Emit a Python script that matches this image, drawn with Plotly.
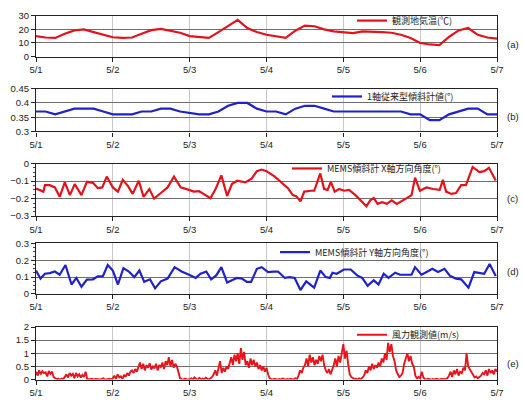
import plotly.graph_objects as go

# ---------------- data ----------------
DATE_LABELS = ["5/1", "5/2", "5/3", "5/4", "5/5", "5/6", "5/7"]
DAY_HOURS = [0, 24, 48, 72, 96, 120, 144]

# (a) air temperature, every 3 hours from 5/1 00:00 to 5/7 00:00
TEMP_HOURS = list(range(0, 145, 3))
TEMP = [15.1, 14.0, 13.7, 16.8, 19.2, 20.0, 18.0, 16.0,
        14.2, 13.7, 14.0, 16.8, 19.4, 20.4, 19.2, 17.5,
        15.0, 14.2, 13.7, 18.0, 22.8, 27.0, 21.0, 18.0,
        16.0, 14.9, 13.7, 19.0, 22.8, 22.3, 20.0, 18.5,
        18.0, 17.3, 18.5, 18.5, 18.0, 17.5, 16.0, 13.7,
        10.0, 8.9, 8.4, 14.4, 19.2, 21.0, 16.0, 14.0,
        13.2]

# (b) conventional 1-axis inclinometer (deg), every 3 hours
TILT_HOURS = list(range(0, 145, 3))
TILT = [0.37, 0.37, 0.36, 0.37, 0.38, 0.38, 0.38, 0.37,
        0.36, 0.36, 0.36, 0.37, 0.37, 0.38, 0.38, 0.37,
        0.365, 0.36, 0.36, 0.37, 0.39, 0.40, 0.40, 0.38,
        0.37, 0.37, 0.36, 0.38, 0.39, 0.39, 0.38, 0.37,
        0.37, 0.37, 0.37, 0.37, 0.37, 0.37, 0.37, 0.36,
        0.36, 0.34, 0.34, 0.36, 0.37, 0.38, 0.38, 0.36,
        0.36]

# (c) MEMS inclinometer X-axis angle (deg)
MEMSX_HOURS = [0, 2.3, 2.8, 4.3, 5.9, 7.4, 9.0, 10.6, 12.1, 14.2, 15.9, 17.8, 19.3, 20.7, 22.1,
               24.0, 25.6, 27.1, 28.7, 30.2, 32.1, 33.6, 35.4, 36.9, 39.0, 41.1, 43.1, 45.2,
               47.8, 49.3, 50.9, 52.4, 54.5, 56.1, 57.9, 59.7, 61.2, 62.8, 65.4, 67.4, 69.0,
               70.5, 72.0, 74.6, 76.6, 78.7, 80.2, 81.3, 82.6, 83.8, 85.9, 86.9, 88.8, 90.0,
               91.1, 92.1, 93.3, 94.7, 96.2, 97.8, 99.8, 101.4, 103.2, 104.4, 105.5, 106.7,
               108.1, 109.6, 111.1, 112.7, 114.2, 115.8, 117.3, 118.4, 119.9, 122.0, 124.0,
               126.1, 127.1, 128.1, 129.7, 131.2, 132.8, 134.3, 136.4, 138.5, 140.0, 141.5,
               143.6]
MEMSX = [-0.142, -0.160, -0.123, -0.123, -0.136, -0.190, -0.107, -0.180, -0.117, -0.180,
         -0.104, -0.110, -0.140, -0.136, -0.074, -0.136, -0.160, -0.093, -0.127, -0.173,
         -0.098, -0.190, -0.145, -0.200, -0.168, -0.136, -0.074, -0.136, -0.150, -0.160,
         -0.157, -0.173, -0.197, -0.145, -0.067, -0.185, -0.117, -0.098, -0.107, -0.085,
         -0.043, -0.034, -0.043, -0.074, -0.104, -0.140, -0.180, -0.186, -0.216, -0.160,
         -0.155, -0.155, -0.056, -0.145, -0.150, -0.104, -0.160, -0.145, -0.155, -0.150,
         -0.180, -0.210, -0.244, -0.210, -0.197, -0.230, -0.220, -0.230, -0.210, -0.230,
         -0.216, -0.197, -0.180, -0.080, -0.155, -0.136, -0.145, -0.150, -0.093, -0.160,
         -0.173, -0.168, -0.123, -0.123, -0.019, -0.049, -0.043, -0.024, -0.096]

# (d) MEMS inclinometer Y-axis angle (deg)
MEMSY_HOURS = [0, 1.4, 2.8, 4.3, 5.9, 7.4, 9.2, 11.1, 12.6, 14.2, 15.9, 17.8, 19.3, 20.9, 22.4,
               24.0, 25.6, 27.3, 29.0, 30.7, 32.3, 33.8, 35.6, 37.2, 39.0, 41.1, 43.3, 45.5,
               47.8, 49.9, 51.4, 53.2, 54.7, 56.3, 57.9, 59.7, 61.2, 62.8, 64.3, 65.9, 67.2,
               69.0, 70.5, 72.5, 74.1, 75.6, 77.7, 79.2, 80.8, 82.6, 84.4, 86.9, 88.8, 90.5,
               91.8, 92.6, 93.9, 96.2, 98.3, 100.3, 101.9, 103.6, 105.5, 107.0, 108.6, 110.1,
               112.2, 113.7, 115.8, 117.3, 118.4, 120.4, 122.0, 123.8, 125.6, 127.6, 129.4,
               131.2, 132.8, 135.1, 136.9, 138.9, 140.0, 141.7, 143.6]
MEMSY = [0.139, 0.091, 0.120, 0.124, 0.133, 0.114, 0.172, 0.056, 0.095, 0.043, 0.085, 0.087,
         0.104, 0.106, 0.172, 0.139, 0.056, 0.153, 0.133, 0.100, 0.139, 0.072, 0.087, 0.033,
         0.075, 0.091, 0.159, 0.133, 0.114, 0.095, 0.120, 0.133, 0.087, 0.110, 0.159, 0.068,
         0.081, 0.095, 0.091, 0.072, 0.072, 0.149, 0.159, 0.130, 0.133, 0.133, 0.095, 0.100,
         0.095, 0.023, 0.075, 0.037, 0.139, 0.100, 0.095, 0.126, 0.120, 0.145, 0.145, 0.110,
         0.095, 0.048, 0.081, 0.056, 0.120, 0.095, 0.126, 0.114, 0.114, 0.114, 0.159, 0.114,
         0.130, 0.149, 0.130, 0.149, 0.106, 0.091, 0.087, 0.037, 0.130, 0.124, 0.120, 0.178,
         0.106]

# (e) wind speed (m/s), every 30 minutes
WIND_HOURS = [i * 0.5 for i in range(289)]
WIND = [
    # 5/1
    0.30, 0.15, 0.35, 0.20, 0.32, 0.25, 0.28, 0.12, 0.33, 0.22, 0.30, 0.10,
    0.05, 0.02, 0.03, 0.00, 0.04, 0.02,
    0.10, 0.20, 0.08, 0.25, 0.15, 0.22, 0.05, 0.25, 0.12, 0.20, 0.08, 0.18, 0.10, 0.30,
    0.02, 0.00, 0.01, 0.03, 0.00, 0.02, 0.00, 0.01, 0.00, 0.02, 0.05, 0.00, 0.01, 0.00, 0.03, 0.00,
    # 5/2
    0.05, 0.15, 0.02, 0.20, 0.08, 0.12, 0.03, 0.18, 0.10, 0.25, 0.15, 0.30,
    0.35, 0.25, 0.40, 0.30,
    0.45, 0.65, 0.40, 0.60, 0.35, 0.55, 0.45, 0.62, 0.38, 0.50, 0.42, 0.60, 0.35,
    0.55, 0.48, 0.65, 0.40, 0.70, 0.55, 0.85, 0.50, 0.75, 0.45, 0.60, 0.50,
    0.30, 0.05, 0.02, 0.00, 0.03, 0.01, 0.00,
    # 5/3
    0.02, 0.05, 0.00, 0.08, 0.03, 0.00, 0.06, 0.02, 0.04, 0.00, 0.07, 0.02, 0.00, 0.05, 0.10,
    0.20, 0.35, 0.15, 0.40, 0.70, 0.25, 0.45, 0.30, 0.50, 0.40,
    0.60, 0.85, 0.55, 0.95, 0.70, 1.00, 0.60, 1.20, 0.75, 1.05, 0.55,
    0.70, 0.45, 0.80, 0.55, 0.75, 0.50, 0.65,
    0.40, 0.55, 0.35, 0.50, 0.30,
    # 5/4
    0.45, 0.20,
    0.05, 0.02, 0.00, 0.03, 0.01, 0.00, 0.02, 0.00, 0.04, 0.01, 0.00, 0.02, 0.00, 0.03, 0.01,
    0.00, 0.05, 0.02,
    0.15, 0.35, 0.25, 0.45,
    0.55, 0.80, 0.50, 0.95, 0.65, 0.85, 0.55, 0.75, 0.60, 0.90, 0.70, 0.95, 0.55,
    0.35, 0.25, 0.40, 0.20, 0.35,
    0.55, 0.80, 0.50, 0.90, 0.65, 1.00,
    # 5/5
    1.35, 0.80, 1.10, 0.60,
    0.20, 0.10, 0.05, 0.02,
    0.03, 0.00, 0.05, 0.02, 0.08, 0.15,
    0.35, 0.25, 0.50, 0.35, 0.60, 0.40, 0.55, 0.45, 0.65, 0.50,
    0.80, 0.65, 1.00, 0.75,
    1.40, 1.05, 1.35, 0.90,
    0.70, 0.35, 0.20, 0.10, 0.15, 0.25,
    0.60, 0.85, 1.00, 0.70, 0.90, 0.60,
    0.50, 0.15, 0.05, 0.10,
    # 5/6
    0.05, 0.30, 0.08, 0.02, 0.00, 0.03,
    0.01, 0.00, 0.02, 0.00, 0.03, 0.01, 0.00, 0.02, 0.00, 0.01, 0.03, 0.05,
    0.15, 0.30, 0.10, 0.35, 0.20, 0.40, 0.15, 0.30, 0.25, 0.45,
    0.35, 1.00, 0.50, 0.40, 0.30,
    0.15, 0.08, 0.12, 0.05, 0.10, 0.15, 0.25,
    0.20, 0.35, 0.15, 0.40, 0.25, 0.35, 0.20, 0.40,
    # 5/7 00:00
    0.30,
]

PANELS = [
    dict(name="観測地気温(℃)", x=TEMP_HOURS, y=TEMP, color="#e3121b", width=2.2,
         rng=[0, 30], dtick=10, minor=False, tag="(a)"),
    dict(name="1軸従来型傾斜計値(°)", x=TILT_HOURS, y=TILT, color="#1f22c8", width=2.2,
         rng=[0.3, 0.45], dtick=0.05, minor=False, tag="(b)"),
    dict(name="MEMS傾斜計 X軸方向角度(°)", x=MEMSX_HOURS, y=MEMSX, color="#e3121b", width=2.2,
         rng=[-0.3, 0], dtick=0.1, minor=True, tag="(c)"),
    dict(name="MEMS傾斜計 Y軸方向角度(°)", x=MEMSY_HOURS, y=MEMSY, color="#1f22c8", width=2.2,
         rng=[0, 0.3], dtick=0.1, minor=True, tag="(d)"),
    dict(name="風力観測値(m/s)", x=WIND_HOURS, y=WIND, color="#e8141b", width=1.9,
         rng=[0, 2], dtick=0.5, minor=False, tag="(e)"),
]

# ---------------- layout (pixel helpers) ----------------
W, H = 523, 405
ML, MR = 36, 26
PANEL_PX = [(10, 52), (85, 129), (162, 216), (244, 296), (330, 384)]
LEGEND_PX = [(352, 15), (327, 93), (287, 167), (275, 253), (352, 338)]
TAG_PY = [40, 114, 198, 273, 367]


def py(v):
    return 1 - v / H


def px(v):
    return (v - ML) / (W - ML - MR)


fig = go.Figure()
layout = dict(
    width=W, height=H,
    margin=dict(l=ML, r=MR, t=0, b=0),
    paper_bgcolor="white", plot_bgcolor="white",
    font=dict(family="Liberation Sans, Arial, sans-serif", size=9.5, color="#222"),
    showlegend=True,
    annotations=[],
)

for i, p in enumerate(PANELS):
    n = "" if i == 0 else str(i + 1)
    leg = "legend" if i == 0 else f"legend{i + 1}"
    fig.add_trace(go.Scatter(
        x=p["x"], y=p["y"], mode="lines", name=p["name"],
        line=dict(color=p["color"], width=p["width"]),
        xaxis=f"x{n}", yaxis=f"y{n}", legend=leg, showlegend=True,
    ))
    top, bot = PANEL_PX[i]
    layout[f"xaxis{n}"] = dict(
        domain=[0, 1], anchor=f"y{n}", range=[0, 144],
        tickvals=DAY_HOURS, ticktext=DATE_LABELS,
        showgrid=True, gridcolor="#c8c8c8", gridwidth=1,
        showline=True, linecolor="#222", linewidth=1.2, mirror=True,
        ticks="outside", ticklen=4, tickcolor="#222",
        zeroline=False, fixedrange=True,
    )
    yax = dict(
        domain=[py(bot), py(top)], anchor=f"x{n}", range=p["rng"], dtick=p["dtick"],
        showgrid=True, gridcolor="#6e6e6e", gridwidth=1.2,
        showline=True, linecolor="#222", linewidth=1.2, mirror=True,
        ticks="outside", ticklen=4, tickcolor="#222",
        zeroline=False, fixedrange=True,
    )
    if p["minor"]:
        yax["minor"] = dict(dtick=p["dtick"] / 4, ticks="outside", ticklen=2,
                            tickcolor="#444", showgrid=False)
    layout[f"yaxis{n}"] = yax
    lx, ly = LEGEND_PX[i]
    layout[leg] = dict(
        x=px(lx), y=py(ly), xanchor="left", yanchor="middle",
        bgcolor="rgba(0,0,0,0)", borderwidth=0,
        font=dict(family="Noto Sans CJK JP", size=9, color="#222"),
        itemwidth=30, tracegroupgap=0,
    )
    layout["annotations"].append(dict(
        text=p["tag"], xref="paper", yref="paper", x=px(505), y=py(TAG_PY[i]),
        xanchor="left", yanchor="middle", showarrow=False,
        font=dict(family="Liberation Sans, Arial, sans-serif", size=9.5, color="#222"),
    ))

fig.update_layout(**layout)
fig.write_html("out.html")
